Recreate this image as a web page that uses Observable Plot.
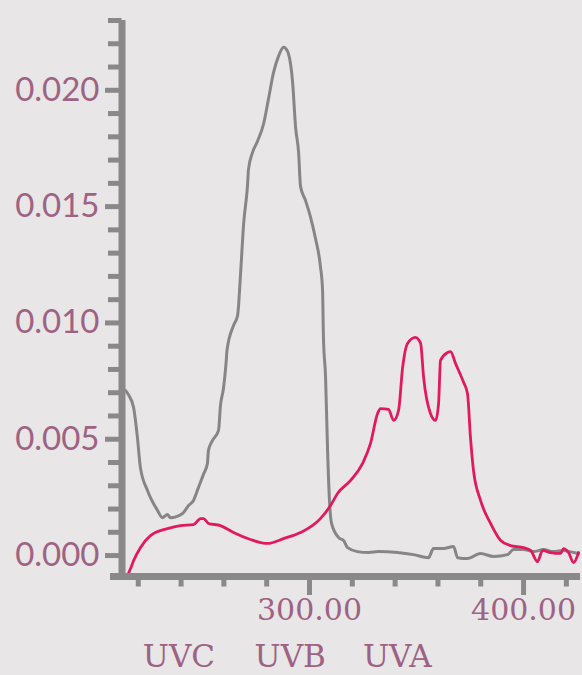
<!DOCTYPE html>
<html><head><meta charset="utf-8">
<script src="https://cdn.jsdelivr.net/npm/d3@7"></script>
<script src="https://cdn.jsdelivr.net/npm/@observablehq/plot@0.6"></script>
<style>html,body{margin:0;padding:0;background:#e8e6e6;} #chart svg{display:block}</style>
</head><body><div id="chart"></div><script>
// Wavelength (nm) and absorbance (x 1e-3)
const grayWl = [214.0,215.5,217.8,219.6,221.0,224.3,229.0,231.3,233.6,235.0,240.7,243.5,245.8,248.1,250.5,252.3,252.8,254.7,257.5,258.4,259.8,261.0,261.5,264.5,266.4,267.8,269.2,271.0,271.5,273.4,275.7,278.5,280.8,283.2,285.5,287.9,289.7,292.1,293.5,294.9,295.8,298.1,300.5,302.8,305.1,306.1,306.5,307.5,308.4,309.3,310.3,313.6,316.0,317.8,322.4,327.6,332.2,341.1,348.6,355.6,357.9,362.6,367.3,369.2,373.8,379.9,386.0,392.5,395.3,400.0,404.7,409.3,414.0,418.7,423.4,426.6];
const grayMilli = [7.10,6.90,6.37,5.08,3.78,2.80,1.94,1.63,1.76,1.63,1.81,2.15,2.37,2.92,3.50,3.96,4.52,4.95,5.38,6.45,7.18,8.26,8.86,9.89,10.32,12.13,14.24,15.87,16.60,17.33,17.81,18.54,19.61,20.77,21.46,21.85,21.68,20.34,18.41,17.33,15.87,15.27,14.54,13.63,12.43,11.40,9.42,7.66,4.65,2.41,1.38,0.77,0.64,0.34,0.17,0.13,0.17,0.13,0.04,-0.09,0.30,0.30,0.39,-0.09,-0.13,0.09,-0.04,0.04,0.26,0.26,0.17,0.26,0.17,0.22,0.13,0.09];
const redWl = [215.4,216.4,217.8,221.0,225.7,233.6,239.7,245.8,249.1,250.5,252.8,258.4,264.5,272.4,280.4,287.9,295.8,305.1,309.8,313.1,319.2,324.8,328.5,331.8,333.2,336.9,339.3,341.6,343.5,345.8,349.5,351.9,353.3,356.5,358.9,360.3,361.2,364.5,365.9,368.2,372.0,373.8,375.2,376.6,379.9,384.6,389.3,393.9,400.0,403.3,406.5,408.9,412.6,417.3,418.7,421.0,423.4,425.7];
const redMilli = [-0.77,-0.56,-0.22,0.34,0.86,1.16,1.29,1.33,1.59,1.59,1.38,1.29,0.99,0.69,0.52,0.73,0.99,1.59,2.15,2.67,3.23,3.96,4.82,6.11,6.32,6.28,5.81,6.24,8.09,9.12,9.38,9.12,7.66,6.11,5.81,6.54,8.39,8.73,8.77,8.26,7.44,6.97,5.08,3.66,2.37,1.38,0.65,0.43,0.34,0.22,-0.26,0.22,0.13,0.09,0.30,0.13,-0.30,0.13];

const yMajorTicks = [0, 0.005, 0.010, 0.015, 0.020];
const yMinorTicks = [0.001,0.002,0.003,0.004,0.006,0.007,0.008,0.009,0.011,0.012,0.013,0.014,0.016,0.017,0.018,0.019,0.021,0.022,0.023];
const xMajorTicks = [300, 400];
const xMinorTicks = [220, 240, 260, 280, 320, 340, 360, 380, 420];
const bands = ["UVC", "UVB", "UVA"];
const bandCenters = [239, 291, 341];

const xDomain = [212.4, 426.6];
const yDomain = [-0.0009, 0.023];

const grayData = grayWl.map((w, i) => ({wl: w, v: grayMilli[i] / 1000}));
const redData = redWl.map((w, i) => ({wl: w, v: redMilli[i] / 1000}));
const bandData = bands.map((b, i) => ({name: b, x: bandCenters[i]}));

const mauve = "#9e6283";
const axisGray = "#898989";

const chart = Plot.plot({
  width: 582, height: 675,
  marginLeft: 121.5, marginRight: 2, marginTop: 20, marginBottom: 99,
  style: {background: "#e8e6e6", overflow: "visible"},
  x: {domain: xDomain, axis: null},
  y: {domain: yDomain, axis: null},
  marks: [
    Plot.line(grayData, {x: "wl", y: "v", stroke: "#868686", strokeWidth: 3, curve: "monotone-x", clip: true}),
    Plot.line(redData, {x: "wl", y: "v", stroke: "#e21a5c", strokeWidth: 2.8, curve: "monotone-x", clip: true}),
    Plot.axisY(yMinorTicks, {anchor: "left", tickSize: 13.5, strokeWidth: 5, stroke: axisGray, tickFormat: () => "", label: null}),
    Plot.axisY(yMajorTicks, {anchor: "left", tickSize: 16.5, tickPadding: 6, strokeWidth: 5, stroke: axisGray, fill: mauve, fontSize: 33, fontFamily: "Lato", tickFormat: d3.format(".3f"), label: null}),
    Plot.axisX(xMinorTicks, {anchor: "bottom", tickSize: 10.5, strokeWidth: 5, stroke: axisGray, tickFormat: () => "", label: null}),
    Plot.axisX(xMajorTicks, {anchor: "bottom", tickSize: 19, tickPadding: 3, strokeWidth: 5, stroke: axisGray, fill: mauve, fontSize: 30, fontFamily: "DejaVu Serif", tickFormat: d => d.toFixed(2), label: null}),
    Plot.ruleX([xDomain[0]], {y1: yDomain[0], y2: yDomain[1], stroke: axisGray, strokeWidth: 7, insetTop: -2.5}),
    Plot.ruleY([yDomain[0]], {stroke: axisGray, strokeWidth: 7, insetLeft: -11.5}),
    Plot.text(bandData, {x: "x", text: "name", frameAnchor: "bottom", lineAnchor: "bottom", dy: 90, fontSize: 31, fontFamily: "DejaVu Serif", fill: mauve})
  ]
});
document.getElementById("chart").append(chart);
</script></body></html>
